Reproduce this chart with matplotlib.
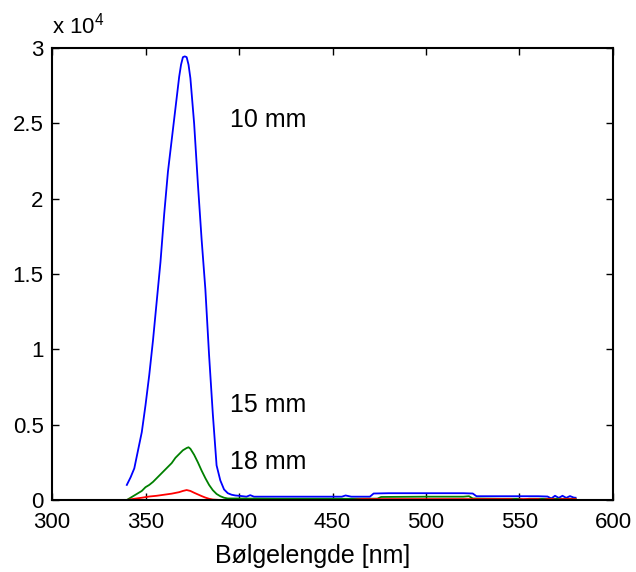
import matplotlib
matplotlib.use("Agg")
import matplotlib.pyplot as plt
from matplotlib.ticker import FuncFormatter, MultipleLocator

plt.rcParams['font.family'] = ['Liberation Sans', 'DejaVu Sans']
plt.rcParams['mathtext.fontset'] = 'custom'
plt.rcParams['mathtext.rm'] = 'Liberation Sans'
plt.rcParams['mathtext.it'] = 'Liberation Sans'

# 10 mm (blue)
wl_10 = [340, 342, 344, 346, 348, 350, 352, 354, 356, 358, 360, 362, 364, 366, 368, 369, 370, 371, 372,
         373, 374, 376, 378, 380, 382, 384, 386, 388, 390, 392, 394, 396, 398, 400, 404, 406, 408,
         420, 440, 455, 457, 460, 470, 472, 480, 500, 520, 525, 527, 540, 560, 565, 567, 569, 571,
         573, 575, 577, 579, 580]
val_10 = [1000, 1500, 2100, 3300, 4500, 6300, 8300, 10600, 13200, 15800, 19000, 21800, 23900, 26000,
          28100, 28900, 29400, 29450, 29400, 28900, 28000, 25000, 21000, 17300, 14000, 9600, 5700, 2300, 1300,
          700, 450, 350, 300, 280, 220, 320, 220, 220, 220, 220, 300, 220, 220, 430, 450, 450, 450, 430,
          250, 250, 250, 230, 100, 280, 140, 280, 140, 260, 160, 150]

# 15 mm (green)
wl_15 = [340, 342, 344, 346, 348, 350, 352, 354, 356, 358, 360, 362, 364, 366, 368, 370, 372, 373, 374,
         376, 378, 380, 382, 384, 386, 388, 390, 392, 394, 400, 420, 460, 474, 476, 500, 520, 523, 525,
         540, 550, 552, 555, 560, 580]
val_15 = [0, 150, 300, 450, 600, 850, 1000, 1200, 1450, 1700, 1950, 2200, 2450, 2800, 3050, 3300, 3450,
          3500, 3400, 3000, 2500, 1950, 1450, 1000, 650, 400, 250, 150, 100, 100, 80, 80, 90, 200, 220,
          220, 250, 100, 80, 80, 20, 80, 80, 80]

# 18 mm (red)
wl_18 = [340, 344, 348, 352, 356, 360, 364, 368, 370, 372, 374, 376, 378, 380, 382, 384, 386, 390, 400,
         460, 466, 480, 545, 548, 551, 560, 562, 565, 568, 570, 572, 580]
val_18 = [0, 80, 150, 230, 280, 350, 420, 520, 600, 660, 600, 480, 370, 260, 160, 80, 30, 0, 0, 0, 60,
          60, 60, 0, 60, 60, 0, 60, 60, 0, 60, 60]

labels = ['10 mm', '15 mm', '18 mm']
label_pos = [(395, 25200), (395, 6300), (395, 2550)]

fig = plt.figure(figsize=(6.36, 5.72), dpi=100)
ax = fig.add_axes([0.0818, 0.1259, 0.882, 0.790])

lw = 1.3
ax.plot(wl_10, val_10, color=(0, 0, 1), lw=lw)
ax.plot(wl_15, val_15, color=(0, 0.5, 0), lw=lw)
ax.plot(wl_18, val_18, color=(1, 0, 0), lw=lw)

for t, (x, y) in zip(labels, label_pos):
    ax.text(x, y, t, fontsize=18, va='center', ha='left')

ax.set_xlim(300, 600)
ax.set_ylim(0, 30000)
ax.xaxis.set_major_locator(MultipleLocator(50))
ax.yaxis.set_major_locator(MultipleLocator(5000))
ax.yaxis.set_major_formatter(FuncFormatter(lambda v, p: '%g' % (v / 1e4)))
ax.tick_params(direction='in', top=True, right=True, length=5, width=1.0,
               labelsize=16)
ax.tick_params(axis='x', pad=9)
ax.tick_params(axis='y', pad=6)
for s in ax.spines.values():
    s.set_linewidth(1.5)

ax.text(0.0, 1.022, r'x 10$^{4}$', transform=ax.transAxes, fontsize=16, ha='left', va='bottom')
ax.set_xlabel('Bølgelengde [nm]', fontsize=18)
ax.xaxis.set_label_coords(0.465, -0.098)

fig.savefig('out.png', dpi=100)
